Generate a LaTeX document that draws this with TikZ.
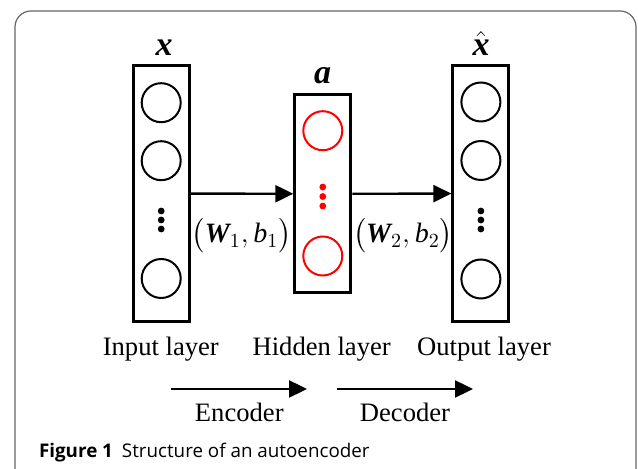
\documentclass[tikz,border=0pt]{standalone}
\usepackage{amsmath}
\usepackage{fontspec}
\setmainfont{Liberation Serif}
\newfontfamily\capfont{Open Sans}
\usetikzlibrary{arrows.meta}

\begin{document}
\begin{tikzpicture}[x=0.5pt,y=-0.5pt,>={Triangle[length=9pt,width=8.5pt]},
 layer/.style={draw,line width=1.5pt,minimum width=28pt,inner sep=0pt},
 unit/.style={draw,circle,line width=1pt,minimum size=19.5pt,inner sep=0pt},
 dot/.style={circle,fill,inner sep=0pt,minimum size=3.4pt},
 lbl/.style={anchor=base,font=\fontsize{13.3}{16}\selectfont},
 var/.style={anchor=base,font=\fontsize{17}{20}\selectfont},
 wgt/.style={anchor=base,inner sep=0pt,font=\fontsize{14}{16}\selectfont}]
\useasboundingbox (0,0) rectangle (638,469);
\clip (0,0) rectangle (638,469);
\draw[black!60,line width=0.6pt,rounded corners=8pt] (15,11) rectangle (636,520);
\node[layer,minimum height=128pt](in)at(161.2,193.6){};
\node[layer,minimum height=99pt](hid)at(322.8,193.8){};
\node[layer,minimum height=128pt](out)at(480.9,193.6){};
\node[unit](in1)at(161.2,102.7){};
\node[unit](in2)at(161.2,160.7){};
\node[dot](ind1)at(161.2,211){};\node[dot](ind2)at(161.2,220){};\node[dot](ind3)at(161.2,229){};
\node[unit](in3)at(161.2,278.5){};
\node[unit,red](hid1)at(322.8,130.7){};
\node[dot,red](hidd1)at(322.8,187){};\node[dot,red](hidd2)at(322.8,196.5){};\node[dot,red](hidd3)at(322.8,206){};
\node[unit,red](hid2)at(322.8,256){};
\node[unit](out1)at(480.9,102){};
\node[unit](out2)at(480.9,160.5){};
\node[dot](outd1)at(480.9,211){};\node[dot](outd2)at(480.9,220){};\node[dot](outd3)at(480.9,229){};
\node[unit](out3)at(480.9,279){};
\node[var](xin)at(164,56){\textbf{\textit{x}}};
\node[var](act)at(322.7,84){\textbf{\textit{a}}};
\node[var](xout)at(481,56){$\hat{\text{\bfseries\itshape x}}$};
\draw[->,line width=1.2pt](in.east)--(hid.west);
\draw[->,line width=1.2pt](hid.east)--(out.west);
\node[wgt](w1)at(241.7,243){$\bigl(\text{\bfseries\itshape W}_{1},\text{\itshape b}_{1}\bigr)$};
\node[wgt](w2)at(403,243){$\bigl(\text{\bfseries\itshape W}_{2},\text{\itshape b}_{2}\bigr)$};
\node[lbl](inl)at(160.8,356){Input layer};
\node[lbl](hidl)at(321.7,356){Hidden layer};
\node[lbl](outl)at(484,356){Output layer};
\coordinate(enc0)at(171,389);\coordinate(enc1)at(307,389);
\coordinate(dec0)at(337,389);\coordinate(dec1)at(473,389);
\draw[->,line width=1.2pt](enc0)--(enc1);
\draw[->,line width=1.2pt](dec0)--(dec1);
\node[lbl](encl)at(239.3,421.7){Encoder};
\node[lbl](decl)at(405,421.7){Decoder};
\node[anchor=base west,font=\capfont\fontsize{9.4}{11}\selectfont](cap)at(32,457.7){\textbf{Figure 1}\hspace{4.5pt}Structure of an autoencoder};
\end{tikzpicture}
\end{document}
